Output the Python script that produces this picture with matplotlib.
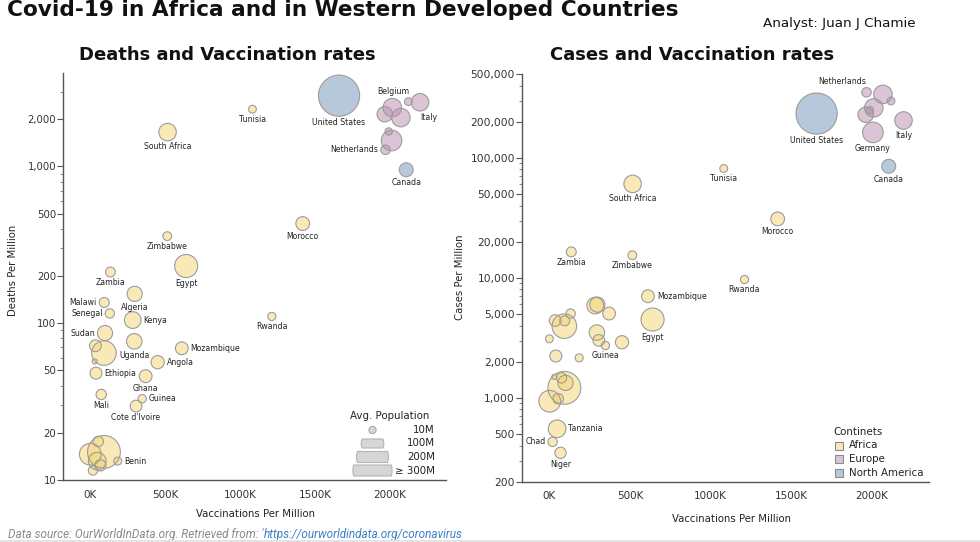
import numpy as np
import matplotlib
matplotlib.use("Agg")
import matplotlib.pyplot as plt
from matplotlib.patches import Circle, Rectangle, Polygon
from matplotlib.ticker import FixedLocator, LogLocator, NullFormatter

# ---------------- data ----------------
countries = ["United States", "Canada", "Italy", "Germany", "Netherlands", "Belgium",
             "France", "Spain", "United Kingdom", "Sweden",
             "Tunisia", "South Africa", "Morocco", "Zimbabwe", "Egypt", "Zambia", "Rwanda",
             "Mozambique", "Benin", "Guinea", "Kenya", "Algeria", "Uganda", "Cote d'Ivoire",
             "Ghana", "Angola", "Senegal", "Malawi", "Ethiopia", "Sudan", "Mali", "Cameroon",
             "Madagascar", "Burkina Faso", "Tanzania", "Chad", "Niger", "Nigeria", "DR Congo",
             "Burundi", "Liberia"]
continents = ["North America", "North America"] + ["Europe"] * 8 + ["Africa"] * 31
vacc_k = [1660, 2108, 2200, 2010, 1970, 2122, 2015, 1965, 2072, 1991,
          1083, 517, 1418, 515, 641, 136, 1212, 612, 185, 348, 285, 298, 295, 307,
          371, 451, 132, 95, 93, 100, 75, 36, 40, 55, 48, 20, 69, 93, 2, 0, 31]
deaths_pm = [2824, 952, 2564, 1462, 1276, 2588, 2370, 2152, 2047, 1669,
             2315, 1653, 432, 359, 231.5, 212, 110.4, 69.2, 13.2, 33, 104.7, 153.8, 76.6, 29.6,
             45.9, 56.4, 115.4, 135.6, 64.5, 86.5, 35.1, 71.8, 48, 17.6, 13.2, 11.5, 12.4,
             15.1, 14.6, 3, 57]
cases_pm = [234000, 85100, 205000, 163000, 352000, 298000, 261000, 229000, 338000, 250000,
            81500, 60700, 31000, 15430, 4494, 16470, 9680, 7030, 2154, 2729, 5877, 5980, 3500,
            3010, 5040, 2906, 5040, 4385, 3955, 1333, 1468, 4406, 2230, 982, 552, 430, 348,
            1211, 937, 3103, 1497]
pop_m = [332, 38, 60, 83, 17.5, 11.6, 67, 47, 67, 10.4,
         11.9, 60, 37, 15, 104, 19, 13, 32, 12.5, 13.5, 55, 45, 47, 27,
         32, 34, 17, 19.6, 118, 45, 21, 27, 28, 21.5, 61, 17, 25, 211, 92, 12, 5]

x_ticks = [0, 500, 1000, 1500, 2000]
x_tick_labels = ["0K", "500K", "1000K", "1500K", "2000K"]
deaths_ticks = [10, 20, 50, 100, 200, 500, 1000, 2000]
deaths_tick_labels = ["10", "20", "50", "100", "200", "500", "1,000", "2,000"]
cases_ticks = [200, 500, 1000, 2000, 5000, 10000, 20000, 50000, 100000, 200000, 500000]
cases_tick_labels = ["200", "500", "1,000", "2,000", "5,000", "10,000", "20,000",
                     "50,000", "100,000", "200,000", "500,000"]
legend_pops = [10, 100, 200, 300]
legend_pop_labels = ["10M", "100M", "200M", "\u2265 300M"]
continent_names = ["Africa", "Europe", "North America"]

# ---------------- style ----------------
W, H, DPI = 980, 542, 100
PX = 72.0 / DPI                      # points per pixel
R100 = 11.3                          # bubble radius in px for 100M people
fill = {"Africa": "#F5D77A", "Europe": "#BF94B4", "North America": "#7C9BBC"}
ALPHA = 0.55
EDGE = "#9C9C9C"
LABEL_FS = 5.6
FONT = "DejaVu Sans"

left_labels = {
    "United States": "b", "Belgium": (-15, 10, "center"), "Italy": (9, -15, "center"),
    "Netherlands": "l", "Canada": "b", "Tunisia": "b", "South Africa": "b", "Morocco": "b",
    "Zimbabwe": "b", "Egypt": "b", "Zambia": "b", "Algeria": "b", "Malawi": "l",
    "Senegal": "l", "Kenya": "r", "Sudan": "l", "Uganda": "b", "Mozambique": "r",
    "Angola": "r", "Ethiopia": (0, -20, "left"), "Ghana": "b", "Guinea": "r", "Mali": "b",
    "Cote d'Ivoire": "b", "Rwanda": "b", "Benin": "r",
}
right_labels = {
    "Netherlands": (0, 10.5, "right"), "United States": "b", "Italy": "b", "Germany": "b",
    "Canada": "b", "Tunisia": "b", "South Africa": "b", "Morocco": "b", "Zambia": "b",
    "Zimbabwe": "b", "Rwanda": "b", "Mozambique": "r", "Egypt": "b", "Guinea": "b",
    "Tanzania": "r", "Chad": "l", "Niger": "b",
}

plt.rcParams["font.family"] = [FONT]
fig = plt.figure(figsize=(W / DPI, H / DPI), dpi=DPI)


def fx(px):
    return px / W


def fy(py):
    return 1 - py / H


def radius_px(p):
    return R100 * np.sqrt(np.asarray(p, dtype=float) / 100.0)


def make_axes(x0, x1, y0, y1):
    return fig.add_axes([fx(x0), fy(y1), fx(x1) - fx(x0), (y1 - y0) / H])


axL = make_axes(63, 446, 73, 480)
axR = make_axes(521.7, 929.3, 74, 481.7)

order = np.argsort(pop_m)[::-1]
rad = radius_px(pop_m)


def draw_panel(ax, yvals, labels, xlim, ylim, yticks, ytlabels, ytfs):
    ax.set_yscale("log")
    for i in order:
        c = continents[i]
        ax.scatter([vacc_k[i]], [yvals[i]], s=(2 * rad[i] * PX) ** 2, color=fill[c],
                   alpha=ALPHA, edgecolors="none", zorder=2)
        ax.scatter([vacc_k[i]], [yvals[i]], s=(2 * rad[i] * PX) ** 2, facecolors="none",
                   edgecolors=EDGE, linewidths=0.8, zorder=3)
    for name, mode in labels.items():
        i = countries.index(name)
        r = rad[i]
        if mode == "b":
            dx, dy, ha = 0, -(r + 6), "center"
        elif mode == "l":
            dx, dy, ha = -(r + 2.5), 0, "right"
        elif mode == "r":
            dx, dy, ha = (r + 2.5), 0, "left"
        else:
            dx, dy, ha = mode
        ax.annotate(name, (vacc_k[i], yvals[i]), xytext=(dx * PX, dy * PX),
                    textcoords="offset points", ha=ha, va="center", fontsize=LABEL_FS,
                    color="#222222", zorder=5)
    ax.set_xlim(*xlim)
    ax.set_ylim(*ylim)
    ax.set_xticks(x_ticks)
    ax.set_xticklabels(x_tick_labels)
    ax.yaxis.set_major_locator(FixedLocator(yticks))
    ax.set_yticklabels(ytlabels)
    ax.yaxis.set_minor_locator(LogLocator(base=10, subs=np.arange(2, 10)))
    ax.yaxis.set_minor_formatter(NullFormatter())
    for s in ["top", "right"]:
        ax.spines[s].set_visible(False)
    for s in ["left", "bottom"]:
        ax.spines[s].set_color("#555555")
        ax.spines[s].set_linewidth(1.0)
    ax.tick_params(axis="x", length=0, pad=7, labelsize=7.5, labelcolor="#333333")
    ax.tick_params(axis="y", which="major", length=4, width=0.8, color="#555555",
                   pad=0.8, labelsize=ytfs, labelcolor="#333333")
    ax.tick_params(axis="y", which="minor", length=2, width=0.6, color="#777777")
    ax.set_facecolor("none")


draw_panel(axL, deaths_pm, left_labels, (-180, 2373), (10, 3940),
           deaths_ticks, deaths_tick_labels, 7.3)
draw_panel(axR, cases_pm, right_labels, (-172, 2360), (200, 500000),
           cases_ticks, cases_tick_labels, 7.7)

axL.set_ylabel("Deaths Per Million", fontsize=7.3, color="#222222")
axL.yaxis.set_label_coords((18 - 63) / 383, (480 - 270) / 407)
axL.set_xlabel("Vaccinations Per Million", fontsize=7.3, color="#222222")
axL.xaxis.set_label_coords((256 - 63) / 383, (480 - 509) / 407)
axR.set_ylabel("Cases Per Million", fontsize=7.3, color="#222222")
axR.yaxis.set_label_coords((465 - 521.7) / 407.6, (481.7 - 277) / 407.7)
axR.set_xlabel("Vaccinations Per Million", fontsize=7.3, color="#222222")
axR.xaxis.set_label_coords((731 - 521.7) / 407.6, (481.7 - 514) / 407.7)

# ---------------- titles ----------------
fig.text(fx(7), fy(16.5), "Covid-19 in Africa and in Western Developed Countries",
         fontsize=15.6, fontweight="bold", ha="left", va="baseline", color="#111111")
fig.text(fx(763), fy(24), "Analyst: Juan J Chamie", fontsize=9.7,
         ha="left", va="center", color="#111111")
fig.text(fx(227), fy(60), "Deaths and Vaccination rates", fontsize=13,
         fontweight="bold", ha="center", va="baseline", color="#111111")
fig.text(fx(692), fy(60), "Cases and Vaccination rates", fontsize=13,
         fontweight="bold", ha="center", va="baseline", color="#111111")

# ---------------- size legend ----------------
fig.text(fx(390), fy(416), "Avg. Population", fontsize=7.4, ha="center", va="center",
         color="#222222")
leg_y = [430, 443.5, 457, 470.5]
leg_h = [None, 9, 11, 11]
leg_cx = 372.5
for k, (p, lab, yy) in enumerate(zip(legend_pops, legend_pop_labels, leg_y)):
    r = float(radius_px(p))
    if leg_h[k] is None:
        shape = Circle((leg_cx, H - yy), r, transform=None, facecolor="#D6D6D6",
                       edgecolor="#A8A8A8", linewidth=0.8)
    else:
        hh = leg_h[k] / 2
        ys = np.linspace(-hh, hh, 25)
        xs = np.sqrt(r ** 2 - ys ** 2)
        pts = np.concatenate([np.column_stack([leg_cx + xs, H - yy + ys]),
                              np.column_stack([leg_cx - xs[::-1], H - yy + ys[::-1]])])
        shape = Polygon(pts, closed=True, transform=None, facecolor="#D6D6D6",
                        edgecolor="#B4B4B4", linewidth=0.8)
    fig.add_artist(shape)
    fig.text(fx(435), fy(yy), lab, fontsize=7.4, ha="right", va="center", color="#222222")

# ---------------- continent legend ----------------
fig.text(fx(833), fy(431.7), "Continets", fontsize=7.4, ha="left", va="center",
         color="#222222")
for c, yy in zip(continent_names, [445.5, 459.3, 472.8]):
    sq = Rectangle((834.5, H - yy - 4), 8, 8, transform=None, facecolor=fill[c],
                   alpha=ALPHA, edgecolor="none")
    fig.add_artist(sq)
    fig.add_artist(Rectangle((834.5, H - yy - 4), 8, 8, transform=None,
                             facecolor="none", edgecolor="#8C8C8C", linewidth=0.8))
    fig.text(fx(848.5), fy(yy), c, fontsize=7.4, ha="left", va="center", color="#222222")

# ---------------- footer ----------------
FOOT_Y = 534.5
t1 = fig.text(fx(8), fy(FOOT_Y), "Data source: OurWorldInData.org. Retrieved from: '",
              fontsize=8.5, style="italic", family=["Roboto", "DejaVu Sans"],
              color="#8A8A8A", ha="left", va="center")
fig.canvas.draw()
bb = t1.get_window_extent(renderer=fig.canvas.get_renderer())
fig.text(bb.x1 / W, fy(FOOT_Y), "https://ourworldindata.org/coronavirus", fontsize=8.5,
         style="italic", family=["Roboto", "DejaVu Sans"], color="#3A7FC4",
         ha="left", va="center")
fig.add_artist(Rectangle((0, 0), W, 2.0, transform=None, facecolor="#E4E4E4",
                         edgecolor="none", zorder=10))

fig.savefig("out.png", dpi=DPI, facecolor="white")
